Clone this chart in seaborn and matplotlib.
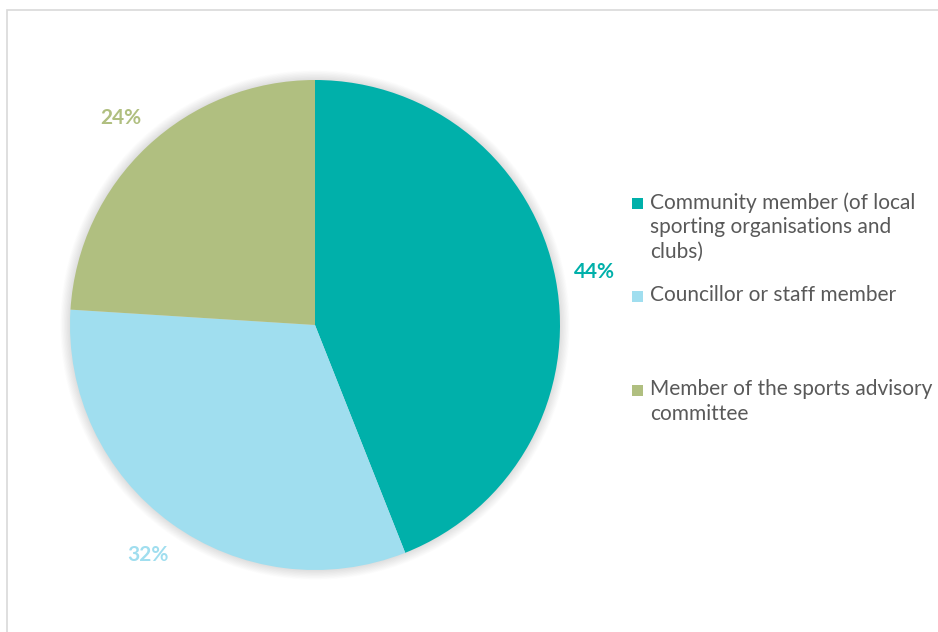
import matplotlib
matplotlib.use("Agg")
import matplotlib.pyplot as plt
from matplotlib.patches import Circle, Rectangle
import seaborn as sns

sns.set_theme(style="white")
plt.rcParams["font.family"] = ["Lato", "DejaVu Sans"]

categories = [
    "Community member (of local\nsporting organisations and\nclubs)",
    "Councillor or staff member",
    "Member of the sports advisory\ncommittee",
]
shares = [44, 32, 24]
colors = ["#00B0AA", "#A0DEEF", "#B0BF80"]

W, H = 938, 632
fig = plt.figure(figsize=(W / 100, H / 100), dpi=100)
fig.patch.set_facecolor("white")

# light chart-area frame
fig.add_artist(Rectangle((7 / W, -0.05), 1.2, (H - 10) / H + 0.05,
                         transform=fig.transFigure, fill=False,
                         edgecolor="#D9D9D9", linewidth=1.2))

ax = fig.add_axes([70 / W, 62 / H, 490 / W, 490 / H])
ax.set_aspect("equal")

# soft glow shadow behind the pie
for k in range(16):
    ax.add_patch(Circle((0, 0), 1.0 + 0.0025 * (k + 1), facecolor="black",
                        edgecolor="none", alpha=0.009, zorder=0,
                        clip_on=False))

wedges, texts, autotexts = ax.pie(
    shares, colors=colors, startangle=90, counterclock=False,
    autopct=lambda p: f"{p:.0f}%", pctdistance=1.16,
    wedgeprops=dict(linewidth=0, zorder=1),
)
for t, c in zip(autotexts, colors):
    t.set_color(c)
    t.set_fontweight("bold")
    t.set_fontsize(15)

ax.set_xlim(-1.0, 1.0)
ax.set_ylim(-1.0, 1.0)
ax.axis("off")

# legend entries: square marker next to the first text line
entry_tops = [192, 285, 379]
for label, color, top in zip(categories, colors, entry_tops):
    fig.add_artist(Rectangle((632 / W, 1 - (top + 17) / H), 11 / W, 11 / H,
                             transform=fig.transFigure,
                             facecolor=color, edgecolor="none"))
    fig.text(650 / W, 1 - top / H, label, color="#595959", fontsize=15,
             va="top", ha="left", linespacing=1.3)

fig.savefig("out.png", dpi=100)
